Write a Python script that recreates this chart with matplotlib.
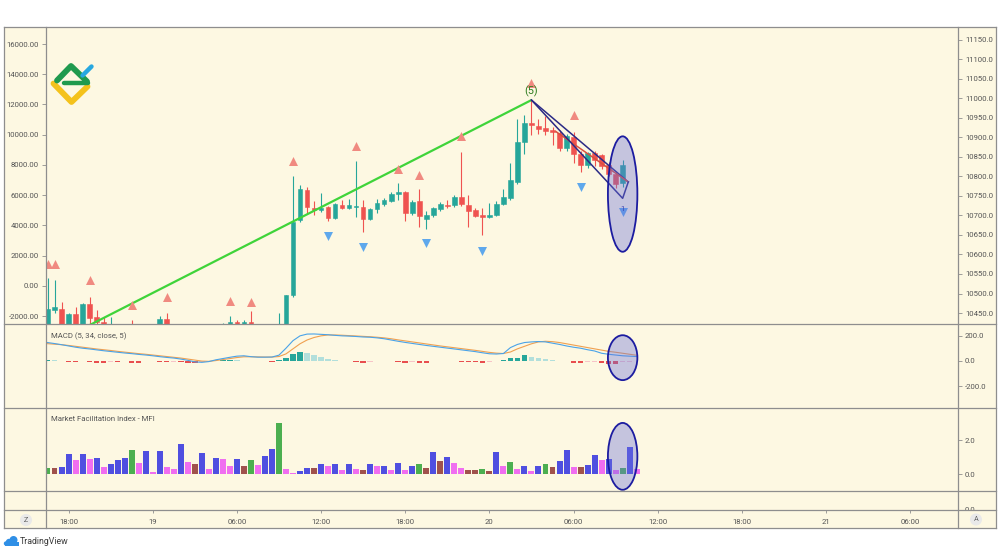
import matplotlib
matplotlib.use('Agg')
import matplotlib.pyplot as plt
from matplotlib.lines import Line2D
from matplotlib.patches import Ellipse, Rectangle, Circle
import numpy as np

plt.rcParams['font.family'] = ['Roboto', 'DejaVu Sans']

# ---------------- data ----------------
opens = [10380, 10458, 10460, 10395, 10447, 10410, 10473, 10441, 10428, 10390,
         10410, 10370, 10390, 10360, 10340, 10370, 10385, 10435, 10400, 10380,
         10395, 10370, 10385, 10400, 10390, 10405, 10410, 10427, 10420, 10427,
         10420, 10400, 10390, 10380, 10400, 10496, 10688, 10765, 10719, 10714,
         10721, 10693, 10727, 10720, 10723, 10723, 10692, 10716, 10730, 10738,
         10755, 10759, 10706, 10737, 10691, 10701, 10716, 10728, 10727, 10748,
         10727, 10714, 10701, 10697, 10701, 10730, 10744, 10787, 10889, 10938,
         10929, 10924, 10920, 10912, 10874, 10900, 10858, 10830, 10861, 10855,
         10830, 10806, 10783]
highs = [10540, 10535, 10478, 10450, 10466, 10476, 10492, 10458, 10440, 10440,
         10418, 10400, 10432, 10395, 10380, 10400, 10442, 10450, 10415, 10410,
         10412, 10400, 10410, 10418, 10420, 10424, 10442, 10432, 10432, 10455,
         10421, 10415, 10410, 10450, 10497, 10801, 10778, 10774, 10738, 10758,
         10724, 10732, 10740, 10742, 10841, 10740, 10720, 10742, 10745, 10760,
         10783, 10762, 10740, 10767, 10712, 10722, 10735, 10739, 10752, 10864,
         10753, 10718, 10718, 10733, 10737, 10767, 10835, 10947, 10958, 10996,
         10947, 10955, 10928, 10918, 10910, 10915, 10866, 10862, 10866, 10858,
         10836, 10812, 10842]
lows = [10350, 10450, 10380, 10380, 10400, 10400, 10400, 10400, 10390, 10350,
        10360, 10340, 10350, 10320, 10310, 10350, 10370, 10390, 10370, 10350,
        10360, 10340, 10360, 10380, 10370, 10390, 10400, 10400, 10405, 10400,
        10380, 10370, 10360, 10370, 10390, 10490, 10684, 10704, 10701, 10708,
        10686, 10690, 10716, 10716, 10695, 10658, 10688, 10706, 10725, 10735,
        10740, 10687, 10700, 10670, 10665, 10695, 10712, 10718, 10722, 10725,
        10670, 10695, 10650, 10694, 10698, 10727, 10740, 10780, 10858, 10906,
        10909, 10906, 10881, 10865, 10866, 10834, 10812, 10823, 10828, 10819,
        10800, 10770, 10774]
closes = [10460, 10465, 10395, 10447, 10410, 10473, 10437, 10428, 10405, 10410,
          10370, 10390, 10360, 10340, 10370, 10385, 10435, 10400, 10380, 10395,
          10370, 10385, 10400, 10390, 10405, 10415, 10427, 10422, 10427, 10420,
          10400, 10390, 10380, 10410, 10496, 10684, 10767, 10721, 10715, 10720,
          10693, 10730, 10719, 10727, 10725, 10690, 10716, 10731, 10740, 10755,
          10761, 10707, 10735, 10699, 10701, 10718, 10730, 10725, 10748, 10730,
          10712, 10699, 10697, 10701, 10730, 10747, 10791, 10889, 10938, 10932,
          10921, 10917, 10915, 10872, 10904, 10858, 10830, 10860, 10842, 10827,
          10806, 10781, 10830]

frac_up_idx = [0, 1, 6, 12, 17, 26, 29, 35, 44, 50, 53, 59, 69, 75]
frac_up_val = [10576, 10576, 10535, 10471, 10491, 10481, 10478, 10840, 10878,
               10819, 10804, 10903, 11040, 10958]
frac_dn_idx = [40, 45, 54, 62, 76, 82]
frac_dn_val = [10647, 10620, 10629, 10610, 10774, 10710]

wave_x = [0, 69]
wave_y = [10364, 10996]
navy_x = [69, 82, 82.8]
navy_y = [10996, 10744, 10786]
navy2_x = [69, 82.8]
navy2_y = [10996, 10786]
red_x = [72.5, 82.8]
red_y = [10915, 10786]

macd_line = [145, 137, 128, 118, 108, 100, 94, 87, 80, 74, 68, 62, 57, 51, 46, 40,
             33, 27, 22, 14, 4, -8, -12, -6, 8, 18, 28, 37, 40, 33, 29, 29, 30, 45,
             100, 160, 198, 212, 213, 210, 207, 202, 198, 196, 193, 189, 187, 182,
             175, 165, 155, 146, 138, 130, 122, 115, 108, 101, 94, 87, 80, 73, 64,
             56, 54, 58, 105, 130, 145, 150, 153, 150, 140, 130, 118, 108, 100, 88,
             78, 60, 52, 46, 40, 37, 34]
signal_line = [136, 132, 128, 122, 115, 108, 101, 94, 88, 82, 75, 69, 63, 57, 52,
               46, 40, 34, 28, 22, 14, 6, -2, -4, 2, 10, 18, 26, 32, 32, 31, 30, 30,
               34, 55, 95, 135, 165, 185, 198, 205, 205, 203, 200, 197, 194, 191,
               187, 182, 175, 166, 158, 150, 142, 134, 126, 118, 111, 104, 97, 90,
               83, 75, 67, 61, 58, 70, 95, 115, 135, 150, 155, 152, 145, 135, 125,
               115, 105, 95, 85, 75, 68, 60, 52, 44]
macd_hist = [8, 4, 0, -8, -10, -3, -6, -14, -16, -6, -12, -4, -14, -15, -5, -3, -8,
             -10, -8, -12, -16, -18, -8, -3, 2, 6, 8, 3, 2, 0, -2, -4, -6, 5, 20,
             53, 71, 61, 45, 34, 18, 10, -3, -5, -6, -16, -6, -4, -3, -5, -12, -14,
             -6, -14, -15, -5, -4, -3, -2, -10, -12, -13, -16, -6, -2, 4, 20, 26,
             45, 34, 26, 13, 5, -3, -4, -14, -18, -8, -6, -18, -22, -24, -12, -6, -3]

mfi_vals = [0.39, 0.39, 0.43, 1.20, 0.86, 1.17, 0.91, 0.97, 0.43, 0.62, 0.86, 0.95,
            1.40, 0.66, 1.34, 0.14, 1.34, 0.43, 0.33, 1.79, 0.72, 0.58, 1.24, 0.33,
            0.97, 0.91, 0.47, 0.87, 0.47, 0.86, 0.52, 1.05, 1.46, 2.99, 0.31, 0.08,
            0.19, 0.35, 0.35, 0.62, 0.50, 0.62, 0.27, 0.62, 0.31, 0.23, 0.58, 0.47,
            0.50, 0.27, 0.66, 0.27, 0.47, 0.62, 0.39, 1.30, 0.78, 1.01, 0.66, 0.39,
            0.27, 0.27, 0.29, 0.19, 1.30, 0.47, 0.70, 0.33, 0.50, 0.17, 0.47, 0.58,
            0.43, 0.76, 1.44, 0.43, 0.43, 0.52, 1.11, 0.86, 0.91, 0.27, 0.37, 1.61,
            0.31]
mfi_codes = list("gkbbpbpbpbbbgpbpbppbpkbpbppbkgpbbgppbbkbpbpbpkbpbpbpbgkbkbppkkgkbpgpbpbgkbbpkbbpbpgbp")

time_tick_idx = [3, 15, 27, 39, 51, 63, 75, 87, 99, 111, 123]
time_tick_labels = ['18:00', '19', '06:00', '12:00', '18:00', '20', '06:00',
                    '12:00', '18:00', '21', '06:00']
left_ticks = [-2000, 0, 2000, 4000, 6000, 8000, 10000, 12000, 14000, 16000]
right_ticks = [10450, 10500, 10550, 10600, 10650, 10700, 10750, 10800, 10850,
               10900, 10950, 11000, 11050, 11100, 11150]
macd_ticks = [-200, 0, 200]
mfi_ticks = [0, 2]

# ---------------- style ----------------
W, H = 1000, 552
CREAM = '#fdf8e2'
LINE = '#8e8e8e'
TXT = '#555555'
UP = '#26a69a'
DN = '#ef5350'
FS = 5.6

fig = plt.figure(figsize=(10, 5.52), dpi=100)
fig.patch.set_facecolor('white')


def rect(x0, y0, x1, y1):
    return [x0 / W, 1 - y1 / H, (x1 - x0) / W, (y1 - y0) / H]


def px2idx(x):
    return (x - 47.5) / 7.014


XL = (px2idx(46), px2idx(958))

bg = fig.add_axes([0, 0, 1, 1])
bg.set_xlim(0, W)
bg.set_ylim(H, 0)
bg.axis('off')
bg.set_zorder(-5)
bg.add_patch(Rectangle((4, 27), 992, 501, fc=CREAM, ec='none'))

# logo
bg.plot([53.5, 71.5, 87.5], [83.5, 102, 86.5], color='#f4c21b', lw=4.2,
        solid_capstyle='round', solid_joinstyle='round')
bg.plot([57, 71, 87], [80.5, 66, 81.5], color='#1f9a4e', lw=4.2,
        solid_capstyle='round', solid_joinstyle='round')
bg.plot([64, 88], [82.5, 82.5], color='#1f9a4e', lw=3.2, solid_capstyle='round')
bg.plot([82.5, 91.5], [75.5, 66.5], color='#27a8e0', lw=3.2, solid_capstyle='round')

# TradingView logo
for cx, cy, r in [(9, 542, 3.2), (13.5, 540, 4.0), (6, 543.5, 2.2)]:
    bg.add_patch(Circle((cx, cy), r, fc='#2f8fe6', ec='none'))
bg.add_patch(Rectangle((4.5, 542), 14, 3.7, fc='#2f8fe6', ec='none'))
bg.text(20, 541, 'TradingView', fontsize=6.3, color='#3a3a3a', va='center', ha='left')


def style_panel(a):
    a.set_facecolor('none')
    for s in a.spines.values():
        s.set_visible(False)
    a.set_xlim(*XL)
    a.set_xticks([])
    a.tick_params(axis='y', colors=LINE, labelcolor=TXT, labelsize=FS,
                  length=3, width=0.6, pad=2)


# ---------------- main panel ----------------
ax = fig.add_axes(rect(46, 27, 958, 324))
style_panel(ax)
axl = ax.twinx()
style_panel(axl)

ax.set_ylim(10421.8, 11183.3)
ax.yaxis.tick_right()
ax.yaxis.set_label_position('right')
ax.set_yticks(right_ticks)
ax.set_yticklabels([f'{v:.1f}' for v in right_ticks])

axl.set_ylim(-2529, 17125)
axl.yaxis.tick_left()
axl.yaxis.set_label_position('left')
axl.set_yticks(left_ticks)
axl.set_yticklabels([f'{v:.2f}' for v in left_ticks])
axl.set_zorder(ax.get_zorder() - 1)

idx = np.arange(len(opens))
o = np.array(opens, float)
c = np.array(closes, float)
col = [UP if cc >= oo else DN for oo, cc in zip(o, c)]
ax.vlines(idx, lows, highs, colors=col, lw=0.8, zorder=2)
ax.bar(idx, c - o, bottom=o, width=0.66, color=col, edgecolor=col, lw=0.4, zorder=3)

ax.plot(wave_x, wave_y, color='#3fd43a', lw=1.6, zorder=4, solid_capstyle='butt')
ax.plot(navy2_x, navy2_y, color='#2b2a86', lw=1.1, zorder=5)
ax.plot(red_x, red_y, color='#d9503f', lw=1.1, zorder=5)
ax.plot(navy_x, navy_y, color='#2b2a86', lw=1.1, zorder=5)

ax.scatter(frac_up_idx, frac_up_val, marker='^', s=42, color='#f08a80', zorder=6,
           linewidths=0)
ax.scatter(frac_dn_idx, frac_dn_val, marker='v', s=42, color='#5ea8ec', zorder=6,
           linewidths=0)
ax.text(69, 11019, '(5)', color='#2e7d1f', fontsize=7.8, ha='center', va='center',
        zorder=7)
ax.text(82, 10716, '1', color='#1f2a9a', fontsize=5.5, ha='center', va='center',
        zorder=7)
ax.add_patch(Ellipse((82, 10755), 4.2, 296, fc=(0.42, 0.44, 0.85, 0.38),
                     ec='#1c1ca0', lw=1.3, zorder=8))

# ---------------- MACD panel ----------------
am = fig.add_axes(rect(46, 324, 958, 408))
style_panel(am)
am.set_ylim(-374, 292)
am.yaxis.tick_right()
am.set_yticks(macd_ticks)
am.set_yticklabels([f'{v:.1f}' for v in macd_ticks])
hc = []
prev = 0
for v in macd_hist:
    if v >= 0:
        hc.append('#26a69a' if v > prev else '#b2dfdb')
    else:
        hc.append('#e84e4e' if v < prev else '#f7c4c8')
    prev = v
mi = np.arange(len(macd_hist))
am.bar(mi, macd_hist, width=0.78, color=hc, zorder=2)
am.plot(np.arange(len(signal_line)), signal_line, color='#f0a050', lw=0.8, zorder=3)
am.plot(np.arange(len(macd_line)), macd_line, color='#4aa3e8', lw=0.8, zorder=3)
am.text(0.006, 0.86, 'MACD (5, 34, close, 5)', transform=am.transAxes, fontsize=FS,
        color=TXT, va='center', ha='left')
am.add_patch(Ellipse((82, 25), 4.2, 356, fc=(0.42, 0.44, 0.85, 0.38),
                     ec='#1c1ca0', lw=1.3, zorder=8))

# ---------------- MFI panel ----------------
af = fig.add_axes(rect(46, 408, 958, 491))
style_panel(af)
af.set_ylim(-0.97, 3.87)
af.yaxis.tick_right()
af.set_yticks(mfi_ticks)
af.set_yticklabels([f'{v:.1f}' for v in mfi_ticks])
cmap = {'g': '#4caf50', 'k': '#a0524c', 'b': '#4f4fe0', 'p': '#f06ef0'}
fi = np.arange(len(mfi_vals))
af.bar(fi, mfi_vals, width=0.85, color=[cmap[k] for k in mfi_codes], zorder=2)
af.text(0.006, 0.87, 'Market Facilitation Index - MFI', transform=af.transAxes,
        fontsize=FS, color=TXT, va='center', ha='left')
af.add_patch(Ellipse((82, 1.05), 4.2, 3.9, fc=(0.42, 0.44, 0.85, 0.38),
                     ec='#1c1ca0', lw=1.3, zorder=8))

# ---------------- 4th panel ----------------
a4 = fig.add_axes(rect(46, 491, 958, 510))
style_panel(a4)
a4.set_ylim(0, 1)
a4.yaxis.tick_right()
a4.set_yticks([0])
a4.set_yticklabels(['0.0'])

# ---------------- time axis ----------------
at = fig.add_axes(rect(4, 510, 996, 528))
at.set_facecolor(CREAM)
for s in at.spines.values():
    s.set_visible(False)
at.set_xlim(px2idx(4), px2idx(996))
at.set_ylim(0, 1)
at.set_yticks([])
at.xaxis.tick_top()
at.set_xticks(time_tick_idx)
at.set_xticklabels(time_tick_labels)
at.tick_params(axis='x', direction='in', length=2.5, width=0.6, colors=LINE,
               labelcolor=TXT, labelsize=FS, pad=-10.5)

# buttons
fig.text(26 / W, 1 - 520 / H, 'Z', fontsize=5.2, color='#666666', ha='center',
         va='center', bbox=dict(boxstyle='circle,pad=0.35', fc='#e9e9e9', ec='none'),
         zorder=12)
fig.text(976 / W, 1 - 519.5 / H, 'A', fontsize=5.2, color='#666666', ha='center',
         va='center', bbox=dict(boxstyle='circle,pad=0.35', fc='#e9e9e9', ec='none'),
         zorder=12)


# frame lines
def fline(x0, y0, x1, y1, lw=0.9):
    fig.add_artist(Line2D([x0 / W, x1 / W], [1 - y0 / H, 1 - y1 / H], color=LINE,
                          lw=lw, zorder=10))


for yy in [27, 324, 408, 491, 510, 528]:
    fline(4, yy, 996, yy)
for xx in [4, 46, 958, 996]:
    fline(xx, 27, xx, 528)

fig.savefig('out.png', dpi=100, facecolor='white')
